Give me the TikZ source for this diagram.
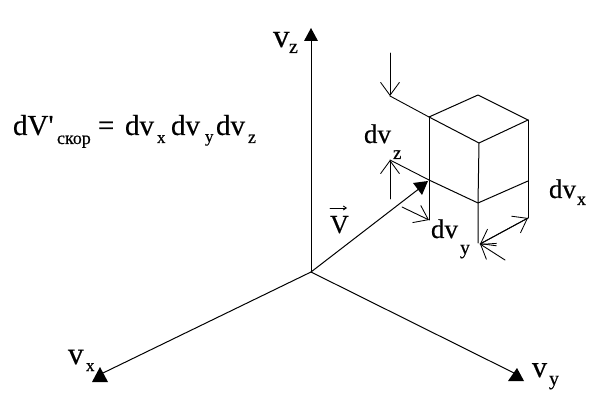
\documentclass[tikz,border=0pt]{standalone}
\usepackage{fontspec}
\setmainfont[FakeBold=0.35]{Liberation Serif}
\newfontfamily\plainserif[FakeBold=0.35]{Liberation Serif}
\usetikzlibrary{arrows.meta}
\newcommand{\fs}[1]{\fontsize{#1}{#1}\selectfont}
\tikzset{
  ln/.style={draw=black,line width=1pt,line cap=round,line join=round},
  thinln/.style={draw=black,line width=0.9pt,line cap=round},
  head/.style={fill=black,draw=none},
  opentip/.style={thinln,-{Straight Barb[length=13pt,width=19pt,line width=0.85pt]}},
  lab/.style={inner sep=0pt,outer sep=0pt,anchor=base west,text=black},
}
\begin{document}
\begin{tikzpicture}[x=1pt,y=-1pt]
\useasboundingbox[fill=white] (0,0) rectangle (608,406);
% axes
\coordinate (O) at (311,272);
\coordinate (Zt) at (311,40);
\coordinate (Xt) at (103,373);
\coordinate (Yt) at (516,374);
\coordinate (Vt) at (420,188);
\draw[ln] (O) -- (Zt);
\draw[ln] (O) -- (Xt);
\draw[ln] (O) -- (Yt);
\draw[ln] (O) -- (Vt);
\fill[head] (311,28) -- (318,41) -- (304,41) -- cycle;
\fill[head] (100,367) -- (108,382) -- (92,382) -- cycle;
\fill[head] (517,368) -- (524,381) -- (508,381) -- cycle;
\fill[head] (413,183) -- (428,181) -- (422,195) -- cycle;
% cube
\coordinate (A) at (429,117);
\coordinate (B) at (478,95);
\coordinate (C) at (528,120);
\coordinate (D) at (479,143);
\coordinate (E) at (429,180);
\coordinate (F) at (478,203);
\coordinate (G) at (528,181);
\coordinate (H) at (429,220);
\coordinate (I) at (480,244);
\coordinate (J) at (528,218);
\draw[ln] (A) -- (B) -- (C) -- (D) -- cycle;
\draw[ln] (A) -- (H);
\draw[ln] (D) -- (F) -- (478,243);
\draw[ln] (C) -- (J);
\draw[ln] (E) -- (F) -- (G);
% dimension arrows
\coordinate (P) at (390,96);
\coordinate (Ptop) at (390,53);
\coordinate (Q) at (390,160);
\coordinate (Qb) at (390,199);
\coordinate (R) at (402,207);
\coordinate (S) at (505,260);
\draw[thinln] (P) -- (A);
\draw[opentip] (Ptop) -- (P);
\draw[thinln] (Q) -- (E);
\draw[opentip] (Qb) -- (Q);
\draw[opentip] (R) -- (H);
\draw[opentip] (J) -- (I);
\draw[opentip] (S) -- (I);
\draw[opentip] (I) -- (J);
% labels
\node[lab,font=\fs{29}] (f0) at (13,135) {dV\plainserif\symbol{39}};
\node[lab,font=\fs{18}] (f1) at (57,144) {скор};
\node[lab,font=\fs{29}] (f2) at (98,135) {=};
\node[lab,font=\fs{29}] (f3) at (125,135) {dv};
\node[lab,font=\fs{17}] (f4) at (157,143) {x};
\node[lab,font=\fs{29}] (f5) at (171,135) {dv};
\node[lab,font=\fs{17}] (f6) at (205,142) {y};
\node[lab,font=\fs{29}] (f7) at (216,135) {dv};
\node[lab,font=\fs{18}] (f8) at (248,143) {z};
\node[lab,font=\fs{33}] (vz) at (273,47) {v};
\node[lab,font=\fs{20}] (vzs) at (289,53) {z};
\node[lab,font=\fs{31}] (vx) at (68,364) {v};
\node[lab,font=\fs{17}] (vxs) at (86,371) {x};
\node[lab,font=\fs{30}] (vy) at (532,377) {v};
\node[lab,font=\fs{20}] (vys) at (549,385) {y};
\node[lab,font=\fs{27}] (dvz) at (364,143) {dv};
\node[lab,font=\fs{19}] (zs) at (393,159) {z};
\node[lab,font=\fs{27}] (dvy) at (431,238) {dv};
\node[lab,font=\fs{20}] (ys) at (460,254) {y};
\node[lab,font=\fs{27}] (dvx) at (549,198) {dv};
\node[lab,font=\fs{18}] (xs) at (577,205) {x};
\node[lab,font=\fs{26}] (V) at (330,233) {V};
\coordinate (Va) at (330,208);
\coordinate (Vb) at (347,208);
\draw[thinln,-{Straight Barb[length=3pt,width=4pt]}] (Va) -- (Vb);
\end{tikzpicture}
\end{document}
